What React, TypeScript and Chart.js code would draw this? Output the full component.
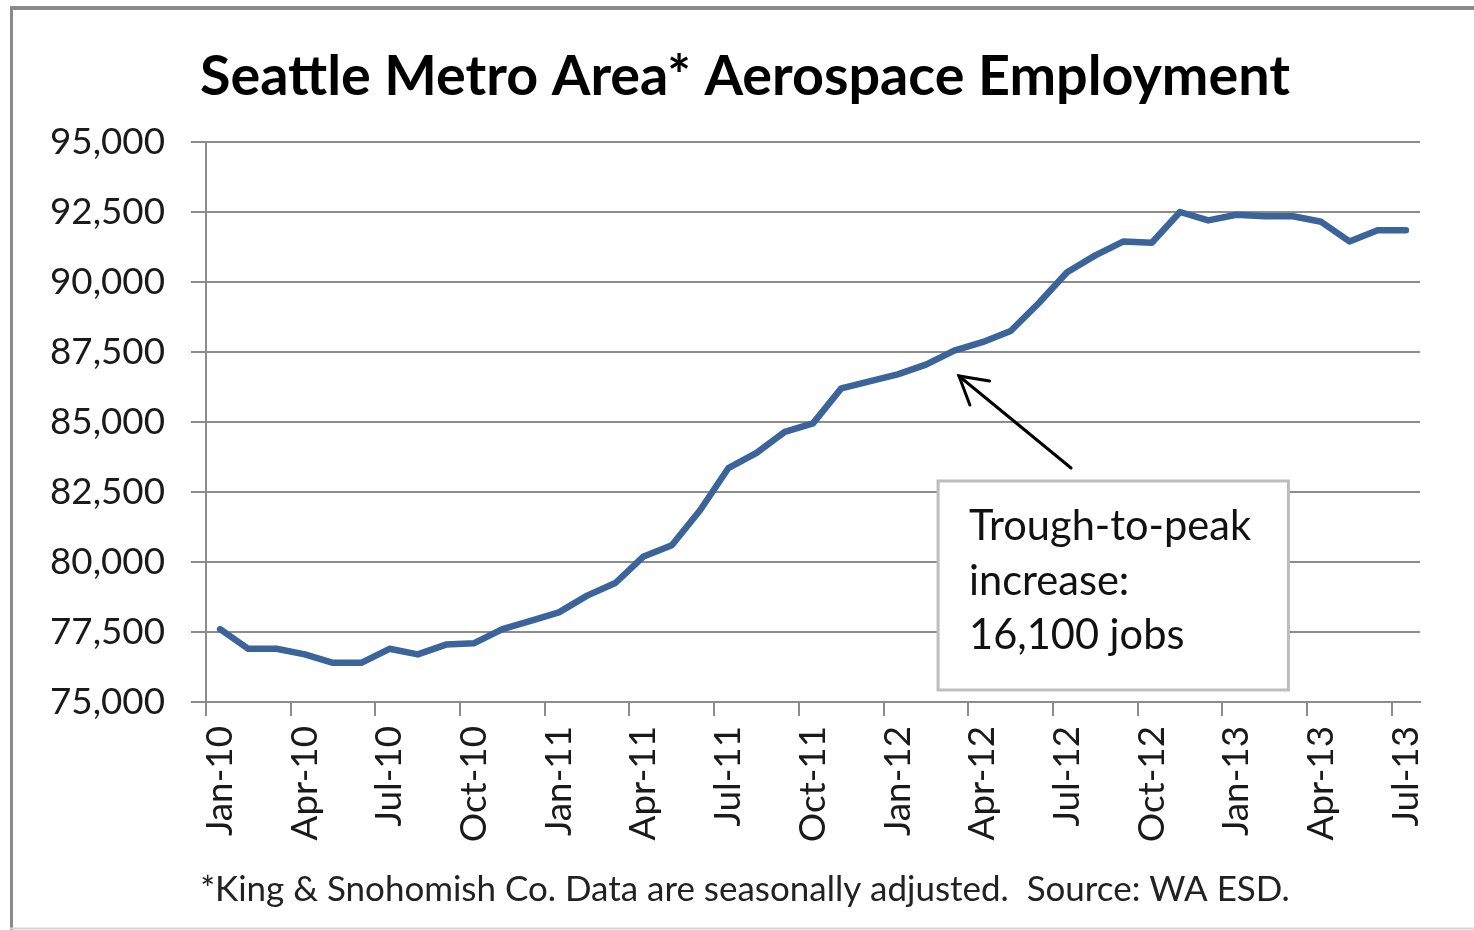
import React, { useEffect, useRef } from 'react';
import { Chart, registerables } from 'chart.js';

Chart.register(...registerables);

// ---- Data ----
const months: string[] = [
  'Jan-10', 'Feb-10', 'Mar-10', 'Apr-10', 'May-10', 'Jun-10', 'Jul-10', 'Aug-10', 'Sep-10', 'Oct-10', 'Nov-10', 'Dec-10',
  'Jan-11', 'Feb-11', 'Mar-11', 'Apr-11', 'May-11', 'Jun-11', 'Jul-11', 'Aug-11', 'Sep-11', 'Oct-11', 'Nov-11', 'Dec-11',
  'Jan-12', 'Feb-12', 'Mar-12', 'Apr-12', 'May-12', 'Jun-12', 'Jul-12', 'Aug-12', 'Sep-12', 'Oct-12', 'Nov-12', 'Dec-12',
  'Jan-13', 'Feb-13', 'Mar-13', 'Apr-13', 'May-13', 'Jun-13', 'Jul-13',
];

const employment: number[] = [
  77600, 76900, 76900, 76700, 76400, 76400, 76900, 76700, 77050, 77100, 77600, 77900,
  78200, 78800, 79250, 80200, 80600, 81850, 83350, 83900, 84650, 84950, 86200, 86450,
  86700, 87050, 87550, 87850, 88250, 89250, 90350, 90950, 91450, 91400, 92500, 92200,
  92400, 92350, 92350, 92150, 91450, 91850, 91850,
];

const yMin = 75000;
const yMax = 95000;
const yStep = 2500;

const titleText = 'Seattle Metro Area* Aerospace Employment';
const footnoteText = '*King & Snohomish Co. Data are seasonally adjusted.  Source: WA ESD.';
const calloutLines: string[] = ['Trough-to-peak', 'increase:', '16,100 jobs'];

// callout anchored in data units: [categoryIndex, value]
const calloutBoxFrom: [number, number] = [25.43, 82893];
const calloutBoxTo: [number, number] = [37.84, 75429];
const arrowTail: [number, number] = [30.14, 83357];
const arrowTip: [number, number] = [26.17, 86643];

const FONT = 'Lato, "Open Sans", sans-serif';

function fitSize(text: string, weight: string, target: number): number {
  const c = document.createElement('canvas').getContext('2d')!;
  c.font = `${weight} 100px ${FONT}`;
  const w = c.measureText(text).width;
  return (100 * target) / w;
}

const frameStyle = { top: '#8a8a8a', bottom: '#d4d4d4' };

export default function App() {
  const ref = useRef<HTMLCanvasElement | null>(null);

  useEffect(() => {
    if (!ref.current) return;
    const titleSize = fitSize(titleText, 'bold', 1090);
    const footSize = fitSize(footnoteText, 'normal', 1090);
    const yTickSize = fitSize('95,000', 'normal', 115);
    const xTickSize = fitSize('Jan-10', 'normal', 110);
    const calloutSize = fitSize(calloutLines[0], 'normal', 282);

    const gridGray = '#8c8c8c';

    const framePlugin = {
      id: 'frame',
      beforeDraw(chart: any) {
        const ctx = chart.ctx;
        ctx.save();
        ctx.fillStyle = '#ffffff';
        ctx.fillRect(0, 0, chart.width, chart.height);
        ctx.strokeStyle = frameStyle.top;
        ctx.lineWidth = 4;
        ctx.beginPath();
        ctx.moveTo(10, 8);
        ctx.lineTo(chart.width, 8);
        ctx.stroke();
        ctx.lineWidth = 3;
        ctx.beginPath();
        ctx.moveTo(11.5, 6);
        ctx.lineTo(11.5, chart.height);
        ctx.stroke();
        ctx.strokeStyle = frameStyle.bottom;
        ctx.lineWidth = 2;
        ctx.beginPath();
        ctx.moveTo(10, chart.height - 1.5);
        ctx.lineTo(chart.width, chart.height - 1.5);
        ctx.stroke();
        ctx.restore();
      },
    };

    const textPlugin = {
      id: 'titles',
      afterDraw(chart: any) {
        const ctx = chart.ctx;
        const area = chart.chartArea;
        const cx = (area.left + area.right) / 2 - 68;
        ctx.save();
        ctx.textAlign = 'center';
        ctx.textBaseline = 'middle';
        ctx.fillStyle = '#000000';
        ctx.font = `bold ${titleSize}px ${FONT}`;
        ctx.fillText(titleText, cx, area.top - 65);
        ctx.fillStyle = '#222222';
        ctx.font = `normal ${footSize}px ${FONT}`;
        ctx.fillText(footnoteText, cx, area.bottom + 188);
        ctx.restore();
      },
    };

    const calloutPlugin = {
      id: 'callout',
      afterDatasetsDraw(chart: any) {
        const ctx = chart.ctx;
        const xs = chart.scales.x;
        const ys = chart.scales.y;
        const bx0 = xs.getPixelForValue(calloutBoxFrom[0]);
        const by0 = ys.getPixelForValue(calloutBoxFrom[1]);
        const bx1 = xs.getPixelForValue(calloutBoxTo[0]);
        const by1 = ys.getPixelForValue(calloutBoxTo[1]);
        ctx.save();
        ctx.fillStyle = '#ffffff';
        ctx.fillRect(bx0, by0, bx1 - bx0, by1 - by0);
        ctx.strokeStyle = '#bdbdbd';
        ctx.lineWidth = 3;
        ctx.strokeRect(bx0, by0, bx1 - bx0, by1 - by0);
        ctx.fillStyle = '#111111';
        ctx.font = `normal ${calloutSize}px ${FONT}`;
        ctx.textBaseline = 'middle';
        ctx.textAlign = 'left';
        calloutLines.forEach((line, i) => {
          ctx.fillText(line, bx0 + 31, by0 + 46 + i * 54.5);
        });

        // arrow
        const tx = xs.getPixelForValue(arrowTail[0]);
        const ty = ys.getPixelForValue(arrowTail[1]);
        const hx = xs.getPixelForValue(arrowTip[0]);
        const hy = ys.getPixelForValue(arrowTip[1]);
        ctx.strokeStyle = '#000000';
        ctx.lineWidth = 3;
        ctx.lineCap = 'round';
        ctx.beginPath();
        ctx.moveTo(tx, ty);
        ctx.lineTo(hx, hy);
        ctx.stroke();
        const ang = Math.atan2(ty - hy, tx - hx);
        const len = 31;
        const spread = (30 * Math.PI) / 180;
        ctx.beginPath();
        ctx.moveTo(hx + len * Math.cos(ang - spread), hy + len * Math.sin(ang - spread));
        ctx.lineTo(hx, hy);
        ctx.lineTo(hx + len * Math.cos(ang + spread), hy + len * Math.sin(ang + spread));
        ctx.stroke();
        ctx.restore();
      },
    };

    const chart = new Chart(ref.current, {
      type: 'line',
      data: {
        labels: months,
        datasets: [
          {
            data: employment,
            borderColor: '#3b649a',
            borderWidth: 6.5,
            pointRadius: 0,
            tension: 0,
            borderJoinStyle: 'round',
            borderCapStyle: 'round',
            fill: false,
          },
        ],
      },
      options: {
        animation: false,
        responsive: false,
        devicePixelRatio: 1,
        layout: { padding: { left: 16, right: 54, top: 142, bottom: 88 } },
        plugins: {
          legend: { display: false },
          tooltip: { enabled: false },
          title: { display: false },
          subtitle: { display: false },
        },
        scales: {
          x: {
            type: 'category',
            offset: true,
            afterFit(scale: any) {
              scale.height = 140;
            },
            grid: {
              display: true,
              offset: true,
              drawOnChartArea: false,
              drawTicks: true,
              tickLength: 14,
              lineWidth: 2,
              color: (c: any) => (c.index % 3 === 0 ? gridGray : 'rgba(0,0,0,0)'),
            },
            border: { display: true, color: gridGray, width: 2 },
            ticks: {
              autoSkip: false,
              minRotation: 90,
              maxRotation: 90,
              padding: 10,
              color: '#1a1a1a',
              font: { family: FONT, size: xTickSize },
              callback: (_v: any, i: number) => (i % 3 === 0 ? months[i] : ''),
            },
          },
          y: {
            min: yMin,
            max: yMax,
            afterFit(scale: any) {
              scale.width = 190;
            },
            grid: {
              color: gridGray,
              lineWidth: 2,
              drawTicks: true,
              tickLength: 15,
            },
            border: { display: true, color: gridGray, width: 2 },
            ticks: {
              stepSize: yStep,
              padding: 26,
              color: '#1a1a1a',
              font: { family: FONT, size: yTickSize },
              callback: (v: any) => Number(v).toLocaleString('en-US'),
            },
          },
        },
      },
      plugins: [framePlugin, calloutPlugin, textPlugin],
    } as any);

    return () => chart.destroy();
  }, []);

  return (
    <div style={{ position: 'absolute', left: 0, top: 0, width: 1474, height: 930 }}>
      <canvas ref={ref} width={1474} height={930} style={{ width: 1474, height: 930, display: 'block' }} />
    </div>
  );
}
